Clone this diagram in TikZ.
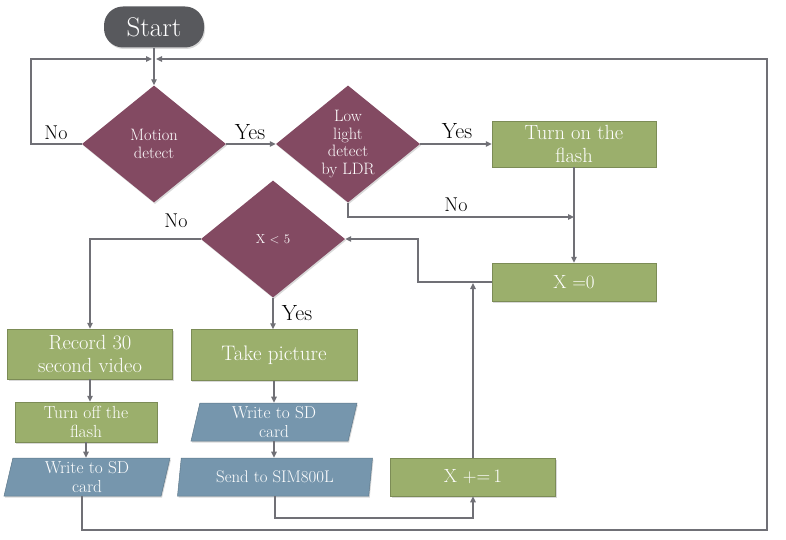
\documentclass[tikz,border=0pt]{standalone}
\usepackage{fontspec}
\usetikzlibrary{shapes.geometric,arrows.meta,shadows}
\definecolor{dia}{RGB}{131,74,98}
\definecolor{grn}{RGB}{155,175,108}
\definecolor{blu}{RGB}{118,150,173}
\definecolor{stc}{RGB}{88,89,93}
\definecolor{ln}{RGB}{112,112,118}
\newcommand{\fs}[2]{\fontsize{#1}{#2}\selectfont\addfontfeature{FakeBold=0.35}}
\tikzset{
  base/.style={text=white, align=center, inner sep=1pt,
    drop shadow={shadow xshift=1pt, shadow yshift=-1.5pt, opacity=0.3}},
  dec/.style={base, diamond, fill=dia, aspect=1.23, minimum width=144pt, minimum height=117pt},
  proc/.style={base, rectangle, fill=grn, draw=grn!80!black, line width=0.5pt},
  io/.style={base, trapezium, trapezium left angle=75, trapezium right angle=105,
    trapezium stretches body, fill=blu, draw=blu!80!black, line width=0.5pt},
  lbl/.style={text=black, inner sep=0pt},
  arr/.style={draw=ln, line width=1.3pt, -{Triangle[length=6pt,width=5.5pt]}},
  ln/.style={draw=ln, line width=1.3pt}
}
\begin{document}
\begin{tikzpicture}[x=1pt,y=-1pt]
\useasboundingbox (0,0) rectangle (786,540);
% nodes
\node[base, fill=stc, rectangle, rounded corners=19pt, minimum width=100pt, minimum height=41pt,
  font=\fs{27}{30}] (start) at (154,27) {Start};
\node[dec, font=\fs{16.5}{18}] (md) at (154,144) {Motion\\detect};
\node[dec, font=\fs{16.5}{17.7}] (ll) at (348,144) {Low\\light\\detect\\by LDR};
\node[proc, minimum width=164pt, minimum height=46pt, font=\fs{20.5}{23}] (fl) at (574,144) {Turn on the\\flash};
\node[proc, minimum width=164pt, minimum height=38pt, font=\fs{19}{23}] (x0) at (574,282) {X =0};
\node[dec, font=\fs{13}{16}] (xl) at (273,239) {X < 5};
\node[proc, minimum width=165pt, minimum height=50pt, font=\fs{20.5}{23}] (rec) at (90,354) {Record 30\\second video};
\node[proc, minimum width=166pt, minimum height=51pt, font=\fs{21}{23}] (tp) at (274,355) {Take picture};
\node[proc, minimum width=142pt, minimum height=40pt, font=\fs{17.5}{19}] (toff) at (86,422) {Turn off the\\flash};
\node[io, minimum width=166pt, minimum height=38pt, font=\fs{17.3}{19}] (w1) at (87,477) {Write to SD\\card};
\node[io, minimum width=166pt, minimum height=38pt, font=\fs{17.3}{19}] (w2) at (274,422) {Write to SD\\card};
\node[io, minimum width=195pt, minimum height=38pt, font=\fs{16.8}{19}] (sim) at (275,477) {Send to SIM800L};
\node[proc, minimum width=165pt, minimum height=38pt, font=\fs{19}{23}] (xp) at (473,477) {X +=\,1};
% coordinates
\coordinate (jl) at (152,59);
\coordinate (jr) at (156,59);
\coordinate (nj) at (574,217);
\coordinate (xj) at (473,283);
% connectors
\draw[arr] (start.south) -- (md.north);
\draw[arr] (md.west) -| (31,59) -- (jl);
\draw[arr] (md.east) -- (ll.west);
\draw[arr] (ll.east) -- (fl.west);
\draw[arr] (fl.south) -- (x0.north);
\draw[arr] (ll.south) |- (nj);
\draw[arr] (x0.west) -| (418,239) -- (xl.east);
\draw[arr] (xl.west) -| (rec.north);
\draw[arr] (xl.south) -- (xl.south |- tp.north);
\draw[arr] (rec.south) -- (rec.south |- toff.north);
\draw[arr] (toff.south) -- (toff.south |- w1.north);
\draw[arr] (w2.north |- tp.south) -- (w2.north);
\draw[arr] (w2.south) -- (w2.south |- sim.north);
\draw[arr] (sim.south) |- (473,518) -- (xp.south);
\draw[arr] (xp.north) -- (xj);
\draw[arr] ([xshift=-5pt]w1.south) |- (767,530) |- (jr);
% labels
\node[lbl, font=\fs{20}{22}] (l1) at (56,133) {No};
\node[lbl, font=\fs{22}{24}] (l2) at (250,132) {Yes};
\node[lbl, font=\fs{22}{24}] (l3) at (457,131) {Yes};
\node[lbl, font=\fs{20}{22}] (l4) at (456,205) {No};
\node[lbl, font=\fs{20}{22}] (l5) at (176,221) {No};
\node[lbl, font=\fs{22}{24}] (l6) at (297,313) {Yes};
\end{tikzpicture}
\end{document}
